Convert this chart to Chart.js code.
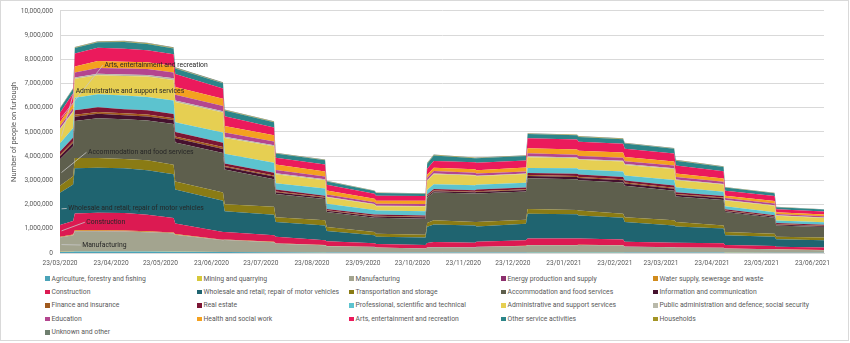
<!DOCTYPE html>
<html>
<head>
<meta charset="utf-8">
<script src="https://cdn.jsdelivr.net/npm/chart.js@4.4.1/dist/chart.umd.min.js"></script>
<style>
  html, body { margin: 0; padding: 0; background: #fff; }
  #frame { position: absolute; left: 0; top: 0; width: 847px; height: 339px; border: 1px solid #d9d9d9; pointer-events: none; }
  #plot { position: absolute; left: 0; top: 0; width: 848px; height: 272px; }
  #legend {
    position: absolute; left: 45px; top: 272px;
    display: grid; grid-template-columns: repeat(5, 152px); grid-auto-rows: 13.4px;
    font: 6.8px Roboto, sans-serif; color: #595959;
  }
  #legend .item { display: flex; align-items: center; white-space: nowrap; }
  #legend .swatch { width: 4.5px; height: 4.5px; margin-right: 2px; flex: none; }
</style>
</head>
<body>
<div id="plot"><canvas id="furlough"></canvas></div>
<div id="legend"></div>
<div id="frame"></div>
<script>
// sample dates: first and last day of each claim month (values in thousands of employments)
const sampleDates = ['2020-03-23','2020-03-31','2020-04-01','2020-04-15','2020-05-01','2020-05-15','2020-05-31',
  '2020-06-01','2020-06-30','2020-07-01','2020-07-31','2020-08-01','2020-08-31','2020-09-01','2020-09-30',
  '2020-10-01','2020-10-31','2020-11-01','2020-11-05','2020-11-30','2020-12-01','2020-12-31',
  '2021-01-01','2021-01-31','2021-02-01','2021-02-28','2021-03-01','2021-03-31','2021-04-01','2021-04-30',
  '2021-05-01','2021-05-31','2021-06-01','2021-06-30'];

const agriculture   = [45,50,60,60,60,58,55,50,38,38,32,28,24,22,20,18,16,18,20,19,20,22,25,25,25,24,21,19,18,17,15,13,12,10];
const mining        = [8,9,10,10,10,10,9,8,6,6,5,4,4,3,3,3,2,3,3,3,3,3,4,4,4,4,3,3,3,3,2,2,2,2];
const manufacturing = [590,670,830,830,820,794,752,692,484,497,408,355,292,256,230,202,166,202,219,210,229,266,291,291,301,283,238,211,202,193,168,141,132,104];
const energy        = [7,8,10,10,10,9,8,7,5,5,4,4,3,3,2,2,2,2,3,3,3,3,3,3,3,3,3,2,2,2,2,1,1,1];
const water         = [20,23,30,30,30,29,26,23,17,14,11,9,7,6,5,5,4,5,5,5,5,6,7,7,7,6,5,5,5,5,3,3,3,3];
const construction  = [490,560,690,720,720,680,600,440,320,310,270,270,200,200,140,140,140,180,200,180,200,230,270,270,260,240,190,180,190,180,140,130,110,110];
const wholesale     = [1330,1510,1870,1860,1850,1840,1800,1400,1290,850,850,610,610,420,330,300,310,670,730,720,640,680,1020,1000,950,900,820,720,680,610,400,380,310,300];
const transport     = [290,340,420,400,380,410,400,330,340,290,330,200,210,160,140,130,110,160,170,140,180,160,200,180,210,160,200,210,180,130,140,130,100,110];
const accommodation = [1090,1240,1530,1650,1650,1640,1680,1620,1630,1440,1140,960,880,620,590,660,670,1050,1150,1180,1180,1170,1270,1270,1250,1290,1300,1220,1050,1050,820,660,470,430];
const information   = [130,145,180,180,165,170,165,170,170,100,108,72,56,52,52,52,52,52,56,52,64,68,88,88,92,92,88,88,72,68,48,40,40,40];
const finance       = [55,65,80,80,75,78,75,78,78,45,48,32,25,23,23,23,23,23,25,23,29,30,40,40,41,41,40,40,32,30,22,18,18,18];
const realEstate    = [135,150,190,190,170,182,170,182,182,105,114,76,59,55,55,55,55,55,59,55,67,72,92,92,97,97,92,92,76,72,50,42,42,42];
const professional  = [340,390,510,540,570,550,560,400,420,400,410,260,300,210,190,170,180,180,200,210,200,190,200,230,210,230,200,230,210,170,120,120,100,100];
const admin         = [580,670,790,780,800,840,850,840,820,650,680,370,340,270,220,170,190,380,410,400,350,360,450,410,400,410,440,450,290,300,240,270,200,180];
const publicAdmin   = [30,35,55,65,68,68,68,65,58,50,44,40,33,26,22,22,22,28,30,26,24,24,35,33,35,35,33,30,28,24,22,20,15,15];
const education     = [110,125,205,235,242,242,242,235,212,180,156,140,117,94,78,78,78,102,110,94,86,86,125,117,125,125,117,110,102,86,78,70,55,55];
const health        = [160,180,250,290,280,280,270,320,300,270,250,230,210,160,140,130,140,120,130,140,140,160,210,220,210,210,180,170,140,140,100,110,70,70];
const arts          = [380,430,530,550,540,500,480,540,430,400,330,280,290,240,210,210,190,250,280,290,310,290,410,410,380,360,340,330,340,300,200,210,130,120];
const otherService  = [176,185,227,227,277,260,244,227,210,235,210,168,168,135,109,109,101,210,227,168,185,185,176,176,193,193,210,193,193,168,135,109,84,84];
const households    = [15,15,19,19,23,22,20,19,18,20,18,14,14,11,9,9,8,18,19,14,15,15,15,15,16,16,18,16,16,14,11,9,7,7];
const unknown       = [19,20,24,24,30,28,26,24,22,25,22,18,18,14,12,12,11,22,24,18,20,20,19,19,21,21,22,21,21,18,14,12,9,9];

const sectorNames = [
  'Agriculture, forestry and fishing', 'Mining and quarrying', 'Manufacturing', 'Energy production and supply',
  'Water supply, sewerage and waste', 'Construction', 'Wholesale and retail; repair of motor vehicles',
  'Transportation and storage', 'Accommodation and food services', 'Information and communication',
  'Finance and insurance', 'Real estate', 'Professional, scientific and technical',
  'Administrative and support services', 'Public administration and defence; social security', 'Education',
  'Health and social work', 'Arts, entertainment and recreation', 'Other service activities', 'Households',
  'Unknown and other'
];
const sectorValues = [agriculture, mining, manufacturing, energy, water, construction, wholesale, transport,
  accommodation, information, finance, realEstate, professional, admin, publicAdmin, education, health, arts,
  otherService, households, unknown];
const sectorColours = ['#4ba3b8','#d6c83a','#a3a48f','#8c2f6e','#d18b1c','#dc1a52','#1f6470','#8a7b14',
  '#5e5f4d','#45112e','#a05a1e','#7c1534','#5cc3cf','#e6cf52','#b9b9aa','#b4468f','#f4a11f','#eb1a5c',
  '#2c8589','#a39424','#6f7f6f'];

// in-plot series labels (sector index, label anchor in day / people units)
const areaLabels = [
  { series: 17, day: 27,  value: 7760000 },
  { series: 13, day: 9.5, value: 6690000 },
  { series: 8,  day: 17,  value: 4160000 },
  { series: 6,  day: 5,   value: 1840000 },
  { series: 5,  day: 16,  value: 1270000 },
  { series: 2,  day: 13.5, value: 330000 }
];

const START = Date.UTC(2020, 2, 23);
const DAY = 86400000;
const toDay = s => { const [y, m, d] = s.split('-').map(Number); return (Date.UTC(y, m - 1, d) - START) / DAY; };
const sampleDays = sampleDates.map(toDay);
const lastDay = sampleDays[sampleDays.length - 1];

// x-axis ticks on the 23rd of every month
const monthTicks = [];
for (let i = 0; i < 16; i++) monthTicks.push((Date.UTC(2020, 2 + i, 23) - START) / DAY);

const fmtDate = v => {
  const d = new Date(START + v * DAY);
  const p = n => String(n).padStart(2, '0');
  return p(d.getUTCDate()) + '/' + p(d.getUTCMonth() + 1) + '/' + d.getUTCFullYear();
};

const datasets = sectorNames.map((name, i) => ({
  label: name,
  data: sectorValues[i].map((v, j) => ({ x: sampleDays[j], y: v * 1000 })),
  backgroundColor: sectorColours[i],
  borderColor: 'transparent',
  borderWidth: 0,
  pointRadius: 0,
  tension: 0,
  fill: i === 0 ? 'origin' : '-1'
}));

const labelPlugin = {
  id: 'areaLabels',
  afterDatasetsDraw(chart) {
    const { ctx, scales: { x, y } } = chart;
    ctx.save();
    ctx.font = '6.8px Roboto, sans-serif';
    ctx.textBaseline = 'middle';
    ctx.textAlign = 'left';
    areaLabels.forEach(l => {
      const top = chart.getDatasetMeta(l.series).data[0];
      const below = l.series > 0 ? chart.getDatasetMeta(l.series - 1).data[0].y : y.getPixelForValue(0);
      const tx = x.getPixelForValue(l.day), ty = y.getPixelForValue(l.value);
      ctx.strokeStyle = '#c8c8c8';
      ctx.lineWidth = 0.8;
      ctx.beginPath();
      ctx.moveTo(tx - 1.5, ty);
      ctx.lineTo(top.x + 1.5, (top.y + below) / 2);
      ctx.stroke();
      ctx.fillStyle = '#262626';
      ctx.fillText(sectorNames[l.series], tx, ty);
    });
    ctx.restore();
  }
};

Chart.defaults.font.family = 'Roboto, sans-serif';
Chart.defaults.color = '#595959';

new Chart(document.getElementById('furlough'), {
  type: 'line',
  data: { datasets },
  options: {
    responsive: true,
    maintainAspectRatio: false,
    animation: false,
    events: [],
    layout: { padding: { top: 4, right: 24, left: 0, bottom: 0 } },
    plugins: { legend: { display: false }, tooltip: { enabled: false } },
    scales: {
      x: {
        type: 'linear',
        min: 0,
        max: lastDay,
        grid: { display: false, drawTicks: false },
        border: { color: '#d9d9d9' },
        afterBuildTicks: axis => { axis.ticks = monthTicks.map(v => ({ value: v })); },
        afterFit: axis => { axis.height = 19; },
        ticks: { autoSkip: false, maxRotation: 0, padding: 6, font: { size: 6.6 }, callback: v => fmtDate(v) }
      },
      y: {
        stacked: true,
        min: 0,
        max: 10000000,
        grid: { color: '#d9d9d9', drawTicks: false },
        border: { color: '#d9d9d9' },
        afterFit: axis => { axis.width = 60; },
        title: { display: true, text: 'Number of people on furlough', font: { size: 7.5 }, padding: { top: 10, bottom: 0 } },
        ticks: { stepSize: 1000000, padding: 7, font: { size: 6.6 }, callback: v => v.toLocaleString('en-GB') }
      }
    }
  },
  plugins: [labelPlugin]
});

// legend laid out in five columns
const legend = document.getElementById('legend');
sectorNames.forEach((name, i) => {
  const item = document.createElement('div');
  item.className = 'item';
  const sw = document.createElement('span');
  sw.className = 'swatch';
  sw.style.background = sectorColours[i];
  item.appendChild(sw);
  item.appendChild(document.createTextNode(name));
  legend.appendChild(item);
});
</script>
</body>
</html>
